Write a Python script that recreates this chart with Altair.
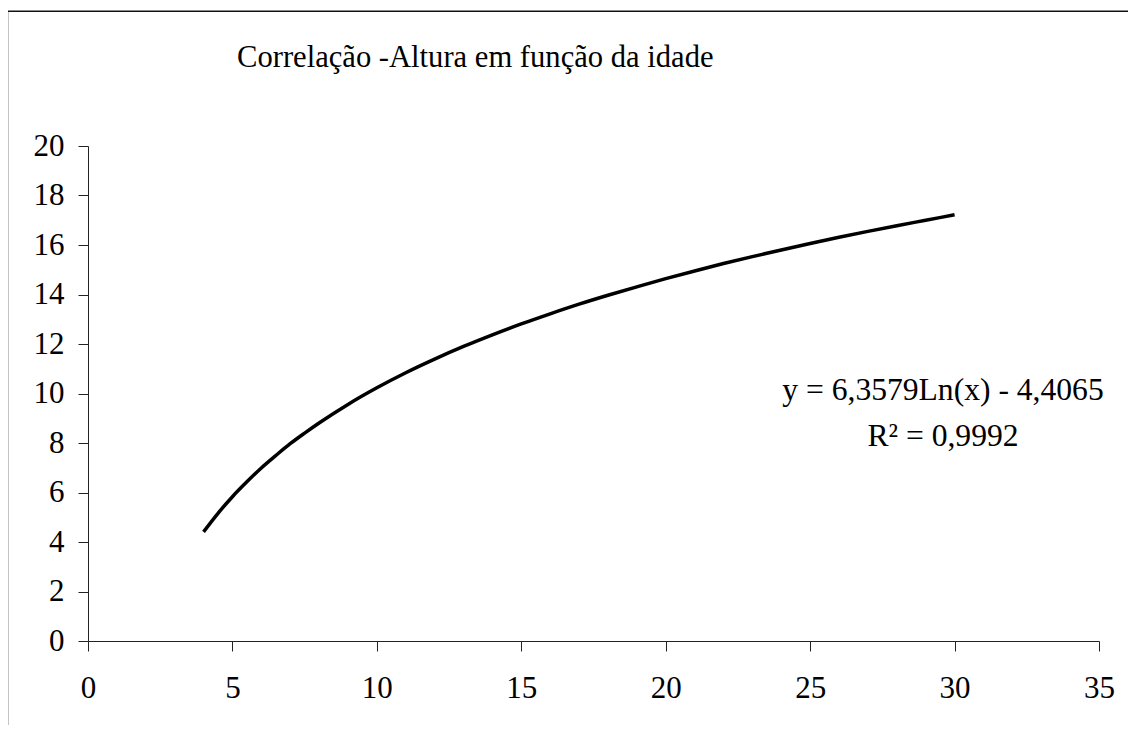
import altair as alt
import pandas as pd

# Values (trend curve of height vs. age)
idade = [4, 4.5, 5, 5.5, 6, 6.5, 7, 7.5, 8, 9, 10, 11, 12, 13, 14, 15, 16, 17, 18,
         19, 20, 21, 22, 23, 24, 25, 26, 27, 28, 29, 30]
altura = [4.41, 5.16, 5.83, 6.43, 6.99, 7.49, 7.97, 8.40, 8.81, 9.56, 10.23, 10.84,
          11.39, 11.90, 12.37, 12.81, 13.22, 13.61, 13.97, 14.31, 14.64, 14.95,
          15.25, 15.53, 15.80, 16.06, 16.31, 16.55, 16.78, 17.00, 17.22]

x_ticks = [0, 5, 10, 15, 20, 25, 30, 35]
y_ticks = [0, 2, 4, 6, 8, 10, 12, 14, 16, 18, 20]

titulo = "Correlação -Altura em função da idade"
equacao = "y = 6,3579Ln(x) - 4,4065"
r2 = "R² = 0,9992"

FONT = "Liberation Serif"

df = pd.DataFrame({"idade": idade, "altura": altura})
one = pd.DataFrame({"k": [0]})

W, H = 1011, 495

x_enc = alt.X("idade:Q", scale=alt.Scale(domain=[0, 35], nice=False, zero=False),
              axis=alt.Axis(values=x_ticks, title=None, grid=False, labelFont=FONT,
                            labelFontSize=31, labelColor="black", labelPadding=22,
                            tickSize=10, tickColor="#222", domainColor="#222",
                            labelFlush=False))
y_enc = alt.Y("altura:Q", scale=alt.Scale(domain=[0, 20], nice=False),
              axis=alt.Axis(values=y_ticks, title=None, grid=False, labelFont=FONT,
                            labelFontSize=31, labelColor="black", labelPadding=14,
                            tickSize=10, tickColor="#222", domainColor="#222",
                            labelFlush=False))

line = alt.Chart(df).mark_line(color="black", strokeWidth=3.5, interpolate="monotone").encode(
    x=x_enc, y=y_enc)

border = alt.Chart(one).mark_rect(fill=None, stroke="#111", strokeWidth=1.5).encode(
    x=alt.value(-80.5), x2=alt.value(1200), y=alt.value(-134.7), y2=alt.value(800))

title_mark = alt.Chart(one).mark_text(font=FONT, fontSize=30.6, align="left",
                                      baseline="alphabetic", color="black").encode(
    x=alt.value(149), y=alt.value(-79), text=alt.value(titulo))

eq1 = alt.Chart(one).mark_text(font=FONT, fontSize=31.6, align="center",
                               baseline="middle", color="black").encode(
    x=alt.value(855), y=alt.value(245), text=alt.value(equacao))
eq2 = alt.Chart(one).mark_text(font=FONT, fontSize=31.6, align="center",
                               baseline="middle", color="black").encode(
    x=alt.value(855), y=alt.value(291), text=alt.value(r2))

chart = alt.layer(border, line, title_mark, eq1, eq2).properties(
    width=W, height=H,
    autosize=alt.AutoSizeParams(type="none"),
    padding={"left": 80, "top": 138, "right": 29, "bottom": 84},
).configure(background="white", font=FONT).configure_view(stroke=None, strokeWidth=0)

chart.save("out.html", embed_options={"renderer": "svg", "actions": False})
